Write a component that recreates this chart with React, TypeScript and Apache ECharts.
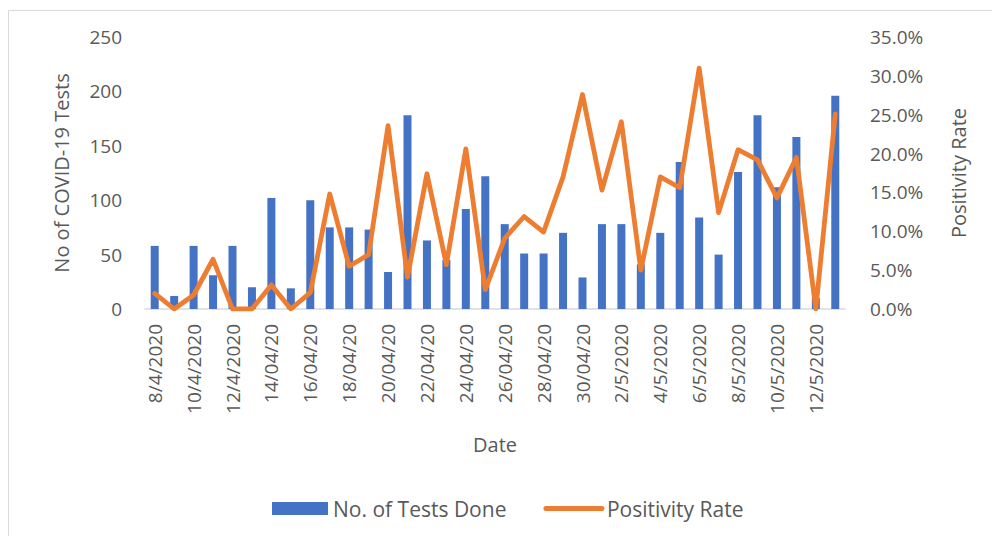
import React, { useEffect, useRef } from "react";
import * as echarts from "echarts";

const dates = [
  "8/4/2020", "9/4/2020", "10/4/2020", "11/4/2020", "12/4/2020", "13/04/20",
  "14/04/20", "15/04/20", "16/04/20", "17/04/20", "18/04/20", "19/04/20",
  "20/04/20", "21/04/20", "22/04/20", "23/04/20", "24/04/20", "25/04/20",
  "26/04/20", "27/04/20", "28/04/20", "29/04/20", "30/04/20", "1/5/2020",
  "2/5/2020", "3/5/2020", "4/5/2020", "5/5/2020", "6/5/2020", "7/5/2020",
  "8/5/2020", "9/5/2020", "10/5/2020", "11/5/2020", "12/5/2020", "13/5/2020",
];

const testsDone = [
  58, 12, 58, 31, 58, 20, 102, 19, 100, 75, 75, 73, 34, 178, 63, 45, 92, 122,
  78, 51, 51, 70, 29, 78, 78, 41, 70, 135, 84, 50, 126, 178, 112, 158, 10, 196,
];

const positivityRate = [
  2.0, 0, 1.8, 6.4, 0, 0, 3.1, 0, 2.1, 14.8, 5.5, 7.0, 23.6, 4.1, 17.4, 5.7,
  20.6, 2.5, 9.1, 11.9, 9.9, 17.0, 27.6, 15.3, 24.1, 5.0, 17.0, 15.6, 31.0,
  12.4, 20.5, 19.2, 14.3, 19.5, 0, 25.1,
];

const FONT = "'Open Sans', sans-serif";
const TXT = "#595959";
const BLUE = "#4472C4";
const ORANGE = "#ED7D31";

export default function App() {
  const ref = useRef<HTMLDivElement>(null);

  useEffect(() => {
    document.body.style.margin = "0";
    if (!ref.current) return;
    const chart = echarts.init(ref.current, null, { renderer: "svg" });
    chart.setOption({
      animation: false,
      backgroundColor: "#ffffff",
      textStyle: { fontFamily: FONT, color: TXT },
      grid: { left: 145, right: 147, top: 37, bottom: 227 },
      legend: {
        left: 267,
        top: 493,
        itemWidth: 56,
        itemHeight: 13,
        itemGap: 37,
        textStyle: { fontFamily: FONT, fontSize: 21, color: TXT },
        data: [
          { name: "No. of Tests Done", icon: "rect" },
          {
            name: "Positivity Rate",
            itemStyle: { opacity: 0 },
            lineStyle: { color: ORANGE, width: 5, cap: "round" },
          },
        ],
      },
      graphic: [
        {
          type: "rect",
          z: 100,
          shape: { x: 140, y: 419, width: 710, height: 12 },
          style: { fill: "#ffffff" },
        },
        {
          type: "rect",
          z: -10,
          shape: { x: 8.5, y: 10.5, width: 990, height: 540 },
          style: { fill: "none", stroke: "#d9d9d9", lineWidth: 1 },
        },
      ],
      xAxis: {
        type: "category",
        data: dates,
        name: "Date",
        nameLocation: "middle",
        nameGap: 125,
        nameTextStyle: { fontFamily: FONT, fontSize: 20, color: TXT },
        axisLine: { lineStyle: { color: "#d9d9d9", width: 1.5 } },
        axisTick: { show: false },
        axisLabel: {
          interval: 1,
          rotate: 90,
          margin: 15,
          fontFamily: FONT,
          fontSize: 19,
          color: TXT,
        },
      },
      yAxis: [
        {
          type: "value",
          min: 0,
          max: 250,
          interval: 50,
          name: "No of COVID-19 Tests",
          nameLocation: "middle",
          nameRotate: 90,
          nameGap: 74,
          nameTextStyle: { fontFamily: FONT, fontSize: 20, color: TXT },
          axisLine: { show: false },
          axisTick: { show: false },
          splitLine: { show: false },
          axisLabel: { margin: 23, fontFamily: FONT, fontSize: 19, color: TXT },
        },
        {
          type: "value",
          min: 0,
          max: 35,
          interval: 5,
          name: "Positivity Rate",
          nameLocation: "middle",
          nameRotate: 90,
          nameGap: 103,
          nameTextStyle: { fontFamily: FONT, fontSize: 20, color: TXT },
          axisLine: { show: false },
          axisTick: { show: false },
          splitLine: { show: false },
          axisLabel: {
            margin: 25,
            fontFamily: FONT,
            fontSize: 19,
            color: TXT,
            formatter: (v: number) => v.toFixed(1) + "%",
          },
        },
      ],
      series: [
        {
          name: "No. of Tests Done",
          type: "bar",
          yAxisIndex: 0,
          barWidth: 8,
          itemStyle: { color: BLUE },
          data: testsDone,
        },
        {
          name: "Positivity Rate",
          type: "line",
          yAxisIndex: 1,
          symbol: "none",
          lineStyle: { color: ORANGE, width: 4.8, join: "round", cap: "round" },
          itemStyle: { color: ORANGE },
          data: positivityRate,
        },
      ],
    });
    return () => chart.dispose();
  }, []);

  return <div ref={ref} style={{ width: 992, height: 536 }} />;
}
